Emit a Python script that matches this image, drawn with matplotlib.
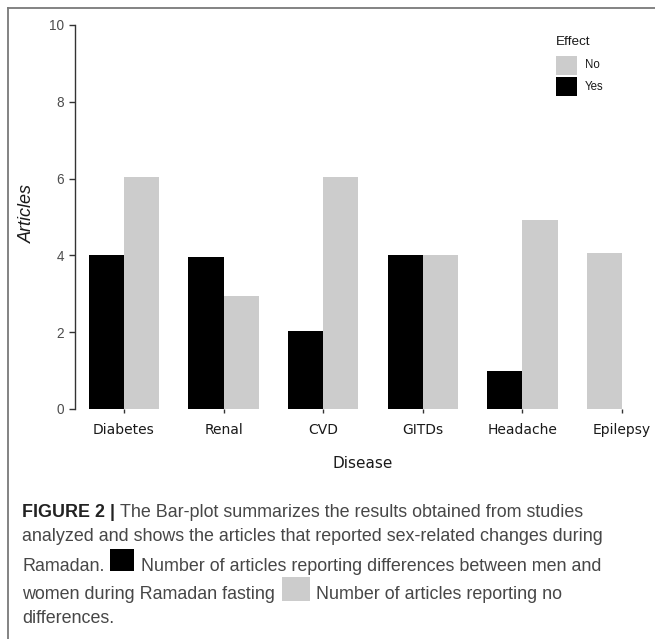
import matplotlib
matplotlib.use("Agg")
import matplotlib.pyplot as plt
from matplotlib.patches import Rectangle
from matplotlib.lines import Line2D

# ---- data ----
diseases = ["Diabetes", "Renal", "CVD", "GITDs", "Headache", "Epilepsy"]
yes_counts = [4.0, 3.97, 2.02, 4.0, 1.0, None]   # Effect = Yes
no_counts = [6.05, 2.93, 6.03, 4.0, 4.92, 4.05]  # Effect = No
y_ticks = [0, 2, 4, 6, 8, 10]
legend_title = "Effect"
legend_labels = ["No", "Yes"]
x_label = "Disease"
y_label = "Articles"

YES_COLOR = "#000000"
NO_COLOR = "#cccccc"

W, H = 655, 639
fig = plt.figure(figsize=(W / 100, H / 100), dpi=100)


def fx(px):
    return px / W


def fy(py):
    return 1 - py / H


# outer frame (top and left lines)
fig.add_artist(Line2D([fx(8), fx(W)], [fy(8), fy(8)], color="#7a7a7a", lw=1.3,
                      transform=fig.transFigure))
fig.add_artist(Line2D([fx(8), fx(8)], [fy(8), fy(H)], color="#7a7a7a", lw=1.3,
                      transform=fig.transFigure))

# ---- axes ----
cat0_px, cat_step = 124.0, 99.6
ax_left, ax_right = 74.5, 652.0
ax = fig.add_axes([fx(ax_left), fy(409), fx(ax_right) - fx(ax_left), fy(25) - fy(409)])
ax.set_xlim(-(cat0_px - ax_left) / cat_step, (ax_right - cat0_px) / cat_step)
ax.set_ylim(0, 10)

bw = 0.354
for i, (yv, nv) in enumerate(zip(yes_counts, no_counts)):
    if yv is not None:
        ax.bar(i - bw / 2, yv, bw, color=YES_COLOR, linewidth=0)
        ax.bar(i + bw / 2, nv, bw, color=NO_COLOR, linewidth=0)
    else:
        # ggplot dodge(preserve="single"): lone bar takes the first slot
        ax.bar(i - bw / 2, nv, bw, color=NO_COLOR, linewidth=0)

for s in ["top", "right", "bottom"]:
    ax.spines[s].set_visible(False)
ax.spines["left"].set_color("#333333")
ax.spines["left"].set_linewidth(1.0)

ax.set_xticks(range(len(diseases)))
ax.set_xticklabels(diseases, fontfamily="DejaVu Sans", fontsize=10, color="#1a1a1a")
ax.set_yticks(y_ticks)
ax.set_yticklabels([str(t) for t in y_ticks], fontfamily="Liberation Sans",
                   fontsize=9.8, color="#4d4d4d")
ax.tick_params(axis="x", length=3, width=1.0, color="#333333", pad=7)
ax.tick_params(axis="y", length=4, width=1.0, color="#333333", pad=3.5)
ax.patch.set_alpha(0)

fig.text(fx(27), fy(214), y_label, rotation=90, ha="center", va="center",
         fontfamily="Liberation Sans", fontstyle="italic", fontsize=13, color="#1a1a1a")
fig.text(fx(363), fy(463), x_label, ha="center", va="center",
         fontfamily="DejaVu Sans", fontsize=11, color="#1a1a1a")

# ---- legend ----
fig.text(fx(556), fy(42), legend_title, ha="left", va="center",
         fontfamily="Liberation Sans", fontsize=9.7, color="#1a1a1a")
leg_colors = [NO_COLOR, YES_COLOR]
for k, (lab, col) in enumerate(zip(legend_labels, leg_colors)):
    top = 56 + k * 21
    fig.add_artist(Rectangle((fx(556), fy(top + 19)), fx(577) - fx(556), fy(top) - fy(top + 19),
                             facecolor=col, edgecolor="none", transform=fig.transFigure))
    fig.text(fx(585), fy(top + 9.5), lab, ha="left", va="center",
             fontfamily="Liberation Sans", fontsize=8.3, color="#1a1a1a")

# ---- caption ----
renderer = fig.canvas.get_renderer()
cap_color = "#474747"
line2 = "analyzed and shows the articles that reported sex-related changes during"
probe = fig.text(0, 0, line2, fontfamily="Liberation Sans", fontsize=11.3)
wpx = probe.get_window_extent(renderer).width
probe.remove()
cs = 11.3 * (586.0 / wpx)


def put(xpx, ypx, s, bold=False, color=cap_color):
    t = fig.text(fx(xpx), fy(ypx), s, ha="left", va="baseline",
                 fontfamily="Liberation Sans", fontsize=cs,
                 fontweight="bold" if bold else "normal", color=color)
    return xpx + t.get_window_extent(renderer).width


x0 = 22
xe = put(x0, 517, "FIGURE 2 |", bold=True, color="#222222")
put(xe + 5, 517, "The Bar-plot summarizes the results obtained from studies")
put(x0, 541, line2)
put(x0, 571, "Ramadan.")
fig.add_artist(Rectangle((fx(110), fy(571)), fx(134) - fx(110), fy(549) - fy(571),
                         facecolor=YES_COLOR, edgecolor="none", transform=fig.transFigure))
put(141, 571, "Number of articles reporting differences between men and")
put(x0, 599, "women during Ramadan fasting")
fig.add_artist(Rectangle((fx(282), fy(601)), fx(310) - fx(282), fy(577) - fy(601),
                         facecolor=NO_COLOR, edgecolor="none", transform=fig.transFigure))
put(316, 599, "Number of articles reporting no")
put(x0, 623, "differences.")

fig.savefig("out.png", dpi=100)
